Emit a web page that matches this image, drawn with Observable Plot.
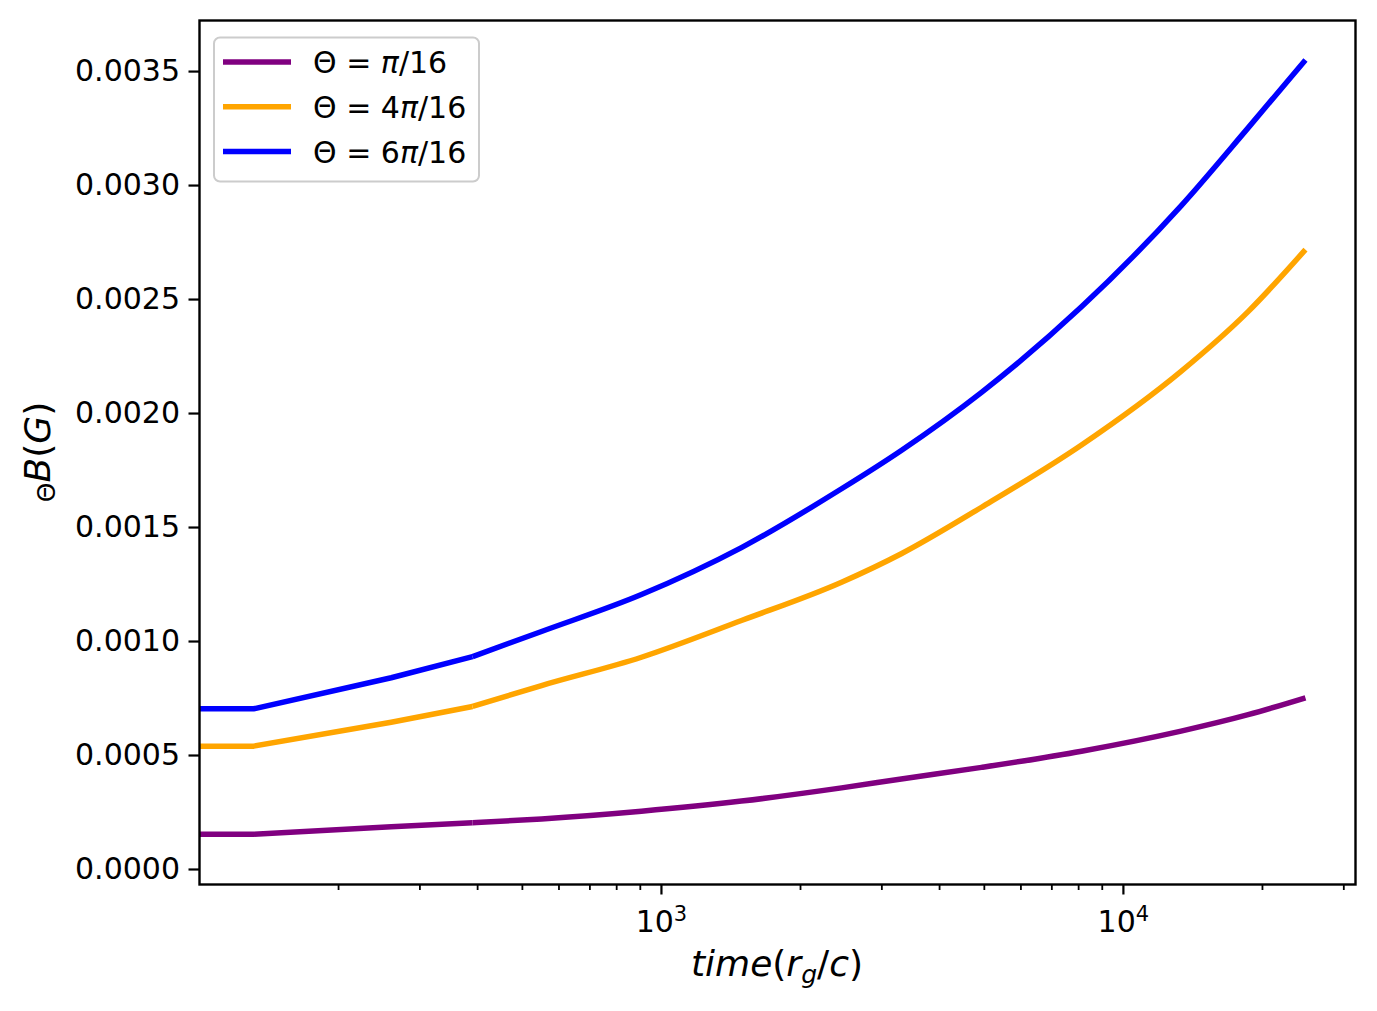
<!DOCTYPE html>
<html>
<head>
<meta charset="utf-8">
<script src="https://cdn.jsdelivr.net/npm/d3@7"></script>
<script src="https://cdn.jsdelivr.net/npm/@observablehq/plot@0.6"></script>
<style>
  html, body { margin: 0; padding: 0; background: #fff; }
  #chart { width: 1377px; height: 1011px; }
</style>
</head>
<body>
<div id="chart"></div>
<script>
// ---- data ----
const time = [100, 131, 260, 390, 550, 905, 1490, 2454, 3305, 4931, 8115, 13330, 18620, 24780];
const seriesNames = ["Θ = π/16", "Θ = 4π/16", "Θ = 6π/16"];
const seriesColors = ["#800080", "#ffa500", "#0000ff"];
const bPi16  = [0.000155, 0.000155, 0.000187, 0.000205, 0.000222, 0.000256, 0.000300, 0.000358, 0.000397, 0.000448, 0.000519, 0.000607, 0.000679, 0.000753];
const b4Pi16 = [0.000541, 0.000541, 0.000646, 0.000715, 0.000807, 0.000931, 0.001092, 0.001260, 0.001385, 0.001589, 0.001862, 0.002185, 0.002447, 0.002719];
const b6Pi16 = [0.000705, 0.000705, 0.000841, 0.000934, 0.001044, 0.001206, 0.001412, 0.001670, 0.001838, 0.002093, 0.002468, 0.002911, 0.003253, 0.003551];
const yTicks = [0, 0.0005, 0.001, 0.0015, 0.002, 0.0025, 0.003, 0.0035];
const xMajorTicks = [1000, 10000];
const xMinorTicks = [200, 300, 400, 500, 600, 700, 800, 900, 2000, 3000, 4000, 5000, 6000, 7000, 8000, 9000, 20000, 30000];
const xDomain = [100, 31800];
const yDomain = [-0.0000658, 0.003724];
const kinkTime = 390; // early part of the curves is drawn as straight segments

const seriesValues = [bPi16, b4Pi16, b6Pi16];
const rows = [];
seriesNames.forEach((s, i) => time.forEach((t, j) => rows.push({series: s, time: t, value: seriesValues[i][j]})));
const earlyRows = rows.filter(d => d.time <= kinkTime);
const lateRows = rows.filter(d => d.time >= kinkTime);

const W = 1377, H = 1011;
const mL = 199, mR = 22, mT = 20, mB = 127;

const lineOpts = {x: "time", y: "value", z: "series", stroke: "series", strokeWidth: 5.5,
  strokeLinejoin: "round", strokeLinecap: "butt", clip: true};

const plot = Plot.plot({
  width: W, height: H,
  marginLeft: mL, marginRight: mR, marginTop: mT, marginBottom: mB,
  style: {fontFamily: "'DejaVu Sans', sans-serif", fontSize: "30px", color: "black", background: "white"},
  x: {type: "log", domain: xDomain},
  y: {domain: yDomain},
  color: {domain: seriesNames, range: seriesColors},
  marks: [
    Plot.line(earlyRows, {...lineOpts, curve: "linear"}),
    Plot.line(lateRows, {...lineOpts, curve: "monotone-x"}),
    Plot.axisY({ticks: yTicks, tickFormat: d3.format(".4f"), tickSize: 10.5, tickPadding: 9, strokeWidth: 2.2, label: null}),
    Plot.axisX({ticks: xMajorTicks, tickFormat: d => String(Math.round(Math.log10(d))), tickSize: 10.5, tickPadding: 16, strokeWidth: 2.2, label: null}),
    Plot.axisX({ticks: xMinorTicks, tickFormat: () => "", tickSize: 6, strokeWidth: 1.8, label: null}),
    Plot.frame({stroke: "black", strokeWidth: 2.4})
  ]
});

document.getElementById("chart").appendChild(plot);
const svg = d3.select(plot);

// x tick labels as 10^n with superscript
svg.selectAll('g[aria-label="x-axis tick label"] text').each(function() {
  const t = d3.select(this);
  const e = t.text();
  if (!e) return;
  t.text("");
  t.append("tspan").text("10");
  t.append("tspan").attr("font-size", "21px").attr("dy", "-0.55em").text(e);
});

const xMid = (mL + (W - mR)) / 2;
const yMid = (mT + (H - mB)) / 2;

// x axis label: time(r_g/c)
const xl = svg.append("text")
  .attr("x", xMid).attr("y", 976)
  .attr("text-anchor", "middle")
  .attr("font-size", "36px")
  .attr("font-family", "'DejaVu Sans', sans-serif")
  .attr("fill", "black");
xl.append("tspan").attr("font-style", "italic").text("time");
xl.append("tspan").text("(");
xl.append("tspan").attr("font-style", "italic").text("r");
xl.append("tspan").attr("font-style", "italic").attr("font-size", "25px").attr("dy", "7").text("g");
xl.append("tspan").attr("dy", "-7").text("/");
xl.append("tspan").attr("font-style", "italic").text("c");
xl.append("tspan").text(")");

// y axis label: _Θ B(G)
const yl = svg.append("text")
  .attr("transform", `translate(50,${yMid}) rotate(-90)`)
  .attr("text-anchor", "middle")
  .attr("font-size", "36px")
  .attr("font-family", "'DejaVu Sans', sans-serif")
  .attr("fill", "black");
yl.append("tspan").attr("font-size", "25px").attr("dy", "5").text("Θ");
yl.append("tspan").attr("font-style", "italic").attr("dy", "-5").text("B");
yl.append("tspan").text("(");
yl.append("tspan").attr("font-style", "italic").text("G");
yl.append("tspan").text(")");

// legend
const lg = svg.append("g")
  .attr("font-family", "'DejaVu Sans', sans-serif")
  .attr("font-size", "30px")
  .attr("text-anchor", "start");
lg.append("rect").attr("x", 214).attr("y", 37.5).attr("width", 265).attr("height", 144)
  .attr("rx", 6).attr("fill", "white").attr("fill-opacity", 0.8)
  .attr("stroke", "#cccccc").attr("stroke-width", 2);
seriesNames.forEach((s, i) => {
  const cy = 62 + i * 44.8;
  lg.append("line").attr("x1", 223).attr("x2", 291).attr("y1", cy).attr("y2", cy)
    .attr("stroke", seriesColors[i]).attr("stroke-width", 5.5);
  const tx = lg.append("text").attr("x", 313).attr("y", cy + 11)
    .attr("text-anchor", "start").attr("fill", "black");
  const [lhs, rhs] = s.split(" = ");
  tx.append("tspan").text(lhs + " = ");
  const m = rhs.match(/^(\d*)π(.*)$/);
  if (m[1]) tx.append("tspan").text(m[1]);
  tx.append("tspan").attr("font-style", "italic").text("π");
  tx.append("tspan").text(m[2]);
});
</script>
</body>
</html>
